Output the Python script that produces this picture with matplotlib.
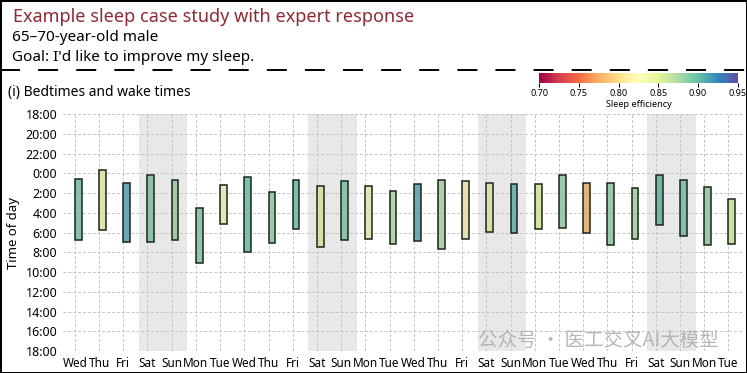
import numpy as np
import matplotlib
matplotlib.use('Agg')
import matplotlib.pyplot as plt
from matplotlib.colors import Normalize
from matplotlib.cm import ScalarMappable

plt.rcParams['font.family'] = ['Noto Sans', 'DejaVu Sans']

# ── DATA ──
days = ['Wed', 'Thu', 'Fri', 'Sat', 'Sun', 'Mon', 'Tue'] * 4
# hours relative to midnight (negative = before midnight)
bedtime = [0.57, -0.37, 0.95, 0.14, 0.64, 3.54, 1.15, 0.37, 1.86, 0.64,
           1.28, 0.74, 1.32, 1.82, 1.05, 0.64, 0.78, 1.01, 1.11, 1.11,
           0.20, 0.95, 0.98, 1.52, 0.20, 0.68, 1.38, 2.60]
waketime = [6.78, 5.77, 6.92, 6.99, 6.72, 9.08, 5.16, 7.93, 7.02, 5.64,
            7.49, 6.72, 6.68, 7.19, 6.89, 7.66, 6.62, 5.97, 6.04, 5.67,
            5.50, 6.08, 7.22, 6.62, 5.23, 6.35, 7.26, 7.16]
efficiency = [0.895, 0.84, 0.912, 0.89, 0.88, 0.89, 0.83, 0.90, 0.885, 0.90,
              0.845, 0.89, 0.82, 0.87, 0.912, 0.875, 0.815, 0.845, 0.905, 0.85,
              0.885, 0.775, 0.885, 0.875, 0.905, 0.895, 0.885, 0.855]
ytick_hours = list(range(-6, 19, 2))
cbar_ticks = [0.70, 0.75, 0.80, 0.85, 0.90, 0.95]

# ── FIGURE ──
fig = plt.figure(figsize=(7.47, 3.73), dpi=100)
fig.patch.set_edgecolor('black')
fig.patch.set_linewidth(2)

fig.text(0.017, 0.955, 'Example sleep case study with expert response',
         color='#8c2a35', fontsize=13, va='center')
fig.text(0.016, 0.900, '65\u201370-year-old male', fontsize=11, va='center')
fig.text(0.016, 0.846, "Goal: I'd like to improve my sleep.", fontsize=11, va='center')
fig.add_artist(plt.Line2D([0.0, 1.0], [0.812, 0.812], transform=fig.transFigure,
                          color='black', lw=1.4, dashes=(10.3, 9.3)))
fig.text(0.011, 0.751, '(i) Bedtimes and wake times', fontsize=10, va='center')

ax = fig.add_axes([0.084, 0.059, 0.909, 0.635])
x = np.arange(len(days))
off = 0.14

# weekend shading
for i, d in enumerate(days):
    if d == 'Sat':
        ax.axvspan(i - 0.5 + off, i + 1.5 + off, color='#e8e8e8', lw=0, zorder=0)

norm = Normalize(0.70, 0.95)
cmap = plt.get_cmap('Spectral')
# muted fill: colormap blended toward grey, slightly transparent
fills = cmap(norm(np.array(efficiency)))
fills[:, :3] = 0.82 * fills[:, :3] + 0.18 * 0.45
fills[:, 3] = 0.85
heights = np.array(waketime) - np.array(bedtime)
ax.bar(x, heights, bottom=bedtime, width=0.28, align='edge',
       color=fills, edgecolor='#18261c', linewidth=1.1, zorder=3)

ax.set_xlim(-0.5, 27.55)
ax.set_ylim(18, -6)
ax.set_yticks(ytick_hours)
ax.set_yticklabels([f'{h + 24 if h < 0 else h}:00' for h in ytick_hours], fontsize=9)
ax.set_xticks(x)
ax.set_xticklabels(days, fontsize=8.5)
ax.tick_params(length=0, pad=4)
ax.set_ylabel('Time of day', fontsize=9.5, labelpad=4)
ax.grid(True, color='#c4c4c4', linestyle=(0, (3, 2)), linewidth=0.7, zorder=1)
ax.set_axisbelow(True)
for s in ax.spines.values():
    s.set_visible(False)

# colorbar
cax = fig.add_axes([0.7216, 0.7775, 0.266, 0.027])
cb = fig.colorbar(ScalarMappable(norm=norm, cmap=cmap), cax=cax, orientation='horizontal')
cb.set_ticks(cbar_ticks)
cb.set_ticklabels([f'{t:.2f}' for t in cbar_ticks])
cb.outline.set_visible(False)
cax.tick_params(labelsize=6.5, length=3, width=0.8, pad=1.5)
cb.set_label('Sleep efficiency', fontsize=6.5, labelpad=1)

# watermark
fig.text(0.64, 0.088, '\u516c\u4f17\u53f7 \u00b7 \u533b\u5de5\u4ea4\u53c9AI\u5927\u6a21\u578b',
         fontsize=14, color='#b0b0b0', alpha=0.9, va='center',
         family=['Noto Sans CJK SC', 'DejaVu Sans'])

fig.savefig('out.png', dpi=100)
